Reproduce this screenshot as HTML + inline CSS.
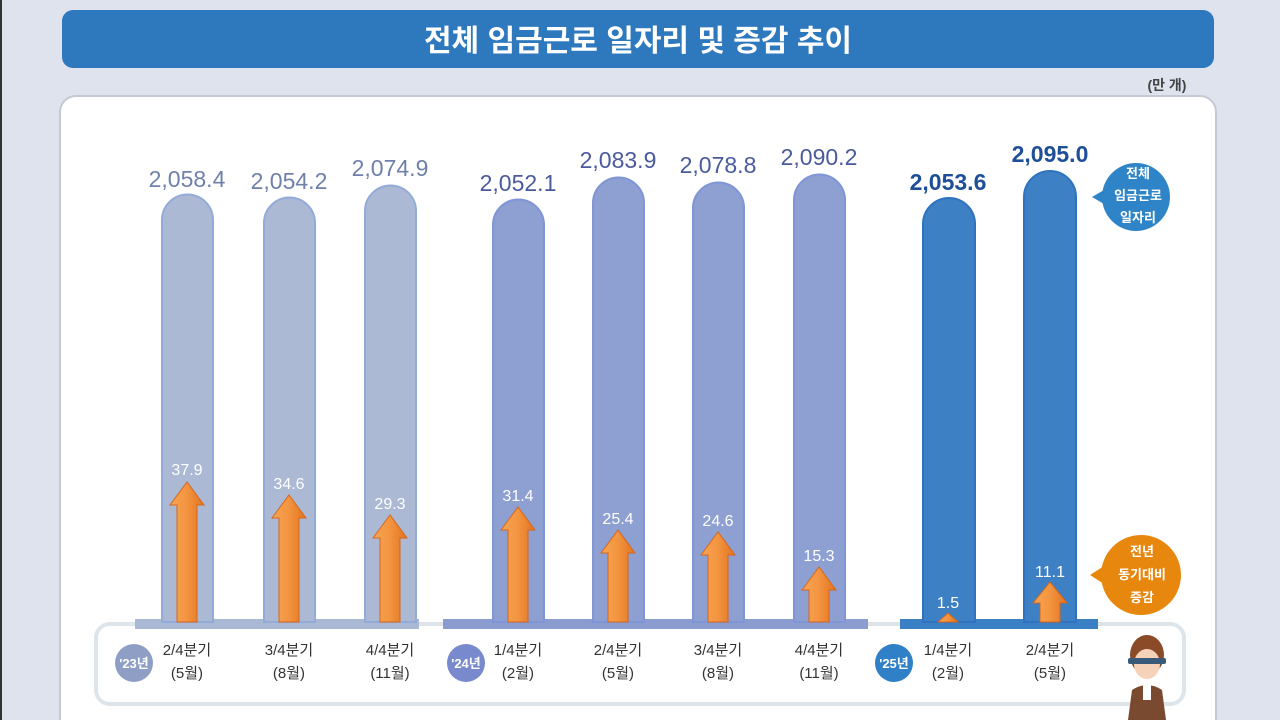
<!DOCTYPE html>
<html><head><meta charset="utf-8"><style>
html,body{margin:0;padding:0;width:1280px;height:720px;overflow:hidden;background:#dfe3ee}
svg{display:block}
text{font-family:"Liberation Sans","Noto Sans CJK KR",sans-serif}
</style></head><body>
<svg width="1280" height="720" viewBox="0 0 1280 720" xmlns="http://www.w3.org/2000/svg">
<defs>
<linearGradient id="ar" x1="0" x2="1" y1="0" y2="0">
<stop offset="0" stop-color="#f7a555"/><stop offset="0.5" stop-color="#f39440"/><stop offset="1" stop-color="#e0731f"/>
</linearGradient>
</defs>
<rect x="0" y="0" width="1280" height="720" fill="#dfe3ee"/>
<rect x="0" y="0" width="2" height="720" fill="#333"/>
<rect x="62" y="10" width="1152" height="58" rx="11" fill="#2e78bd"/>
<text x="638" y="51" text-anchor="middle" font-size="30" font-weight="bold" fill="#fff">전체 임금근로 일자리 및 증감 추이</text>
<text x="1167" y="90" text-anchor="middle" font-size="14" fill="#444" font-weight="bold">(만 개)</text>
<rect x="60" y="96" width="1156" height="640" rx="16" fill="#fff" stroke="#c5c9d4" stroke-width="2"/>
<rect x="96" y="624" width="1088" height="80" rx="14" fill="#fff" stroke="#dde5ea" stroke-width="4"/>
<rect x="135" y="619" width="284" height="10" fill="#a9b8d3"/>
<rect x="443" y="619" width="425" height="10" fill="#8b9cd1"/>
<rect x="900" y="619" width="198" height="10" fill="#3b7fc4"/>
<g id="bars">
<!-- 23 -->
<path d="M162,622 V220 a25.5,25.5 0 0 1 51,0 V622 Z" fill="#abb9d4" stroke="#93abd8" stroke-width="2"/>
<path d="M264,622 V223 a25.5,25.5 0 0 1 51,0 V622 Z" fill="#abb9d4" stroke="#93abd8" stroke-width="2"/>
<path d="M365,622 V211 a25.5,25.5 0 0 1 51,0 V622 Z" fill="#abb9d4" stroke="#93abd8" stroke-width="2"/>
<!-- 24 -->
<path d="M493,622 V225 a25.5,25.5 0 0 1 51,0 V622 Z" fill="#8e9fd2" stroke="#7f95d6" stroke-width="2"/>
<path d="M593,622 V203 a25.5,25.5 0 0 1 51,0 V622 Z" fill="#8e9fd2" stroke="#7f95d6" stroke-width="2"/>
<path d="M693,622 V208 a25.5,25.5 0 0 1 51,0 V622 Z" fill="#8e9fd2" stroke="#7f95d6" stroke-width="2"/>
<path d="M794,622 V200 a25.5,25.5 0 0 1 51,0 V622 Z" fill="#8e9fd2" stroke="#7f95d6" stroke-width="2"/>
<!-- 25 -->
<path d="M923,622 V224 a26,26 0 0 1 52,0 V622 Z" fill="#3d80c4" stroke="#2f72c0" stroke-width="2"/>
<path d="M1024,622 V197 a26,26 0 0 1 52,0 V622 Z" fill="#3d80c4" stroke="#2f72c0" stroke-width="2"/>
</g>
<g font-size="23" text-anchor="middle">
<text x="187" y="187" fill="#6f80aa">2,058.4</text>
<text x="289" y="189" fill="#6f80aa">2,054.2</text>
<text x="390" y="176" fill="#6f80aa">2,074.9</text>
<text x="518" y="191" fill="#4a5a9c">2,052.1</text>
<text x="618" y="168" fill="#4a5a9c">2,083.9</text>
<text x="718" y="173" fill="#4a5a9c">2,078.8</text>
<text x="819" y="165" fill="#4a5a9c">2,090.2</text>
<text x="948" y="190" fill="#1e4f98" font-weight="bold">2,053.6</text>
<text x="1050" y="162" fill="#1e4f98" font-weight="bold">2,095.0</text>
</g>
<g id="arrows">
<path d="M177,622 V505 H170 L187,482 L204,505 H197 V622 Z" fill="url(#ar)" stroke="#d8661a" stroke-width="1"/>
<path d="M279,622 V518 H272 L289,495 L306,518 H299 V622 Z" fill="url(#ar)" stroke="#d8661a" stroke-width="1"/>
<path d="M380,622 V538 H373 L390,515 L407,538 H400 V622 Z" fill="url(#ar)" stroke="#d8661a" stroke-width="1"/>
<path d="M508,622 V530 H501 L518,507 L535,530 H528 V622 Z" fill="url(#ar)" stroke="#d8661a" stroke-width="1"/>
<path d="M608,622 V553 H601 L618,530 L635,553 H628 V622 Z" fill="url(#ar)" stroke="#d8661a" stroke-width="1"/>
<path d="M708,622 V555 H701 L718,532 L735,555 H728 V622 Z" fill="url(#ar)" stroke="#d8661a" stroke-width="1"/>
<path d="M809,622 V590 H802 L819,567 L836,590 H829 V622 Z" fill="url(#ar)" stroke="#d8661a" stroke-width="1"/>
<path d="M938,622 L948,613 L958,622 Z" fill="url(#ar)" stroke="#d8661a" stroke-width="1"/>
<path d="M1040,622 V603 H1033 L1050,582 L1067,603 H1060 V622 Z" fill="url(#ar)" stroke="#d8661a" stroke-width="1"/>
</g>
<g font-size="16" fill="#fff" text-anchor="middle">
<text x="187" y="475">37.9</text>
<text x="289" y="489">34.6</text>
<text x="390" y="509">29.3</text>
<text x="518" y="501">31.4</text>
<text x="618" y="524">25.4</text>
<text x="718" y="526">24.6</text>
<text x="819" y="561">15.3</text>
<text x="948" y="608">1.5</text>
<text x="1050" y="577">11.1</text>
</g>
<circle cx="134" cy="663" r="19" fill="#8e9ec4"/>
<text x="134" y="668" text-anchor="middle" font-size="13" fill="#fff" font-weight="bold">'23년</text>
<circle cx="466" cy="663" r="19" fill="#7889cd"/>
<text x="466" y="668" text-anchor="middle" font-size="13" fill="#fff" font-weight="bold">'24년</text>
<circle cx="894" cy="663" r="19" fill="#2f80c7"/>
<text x="894" y="668" text-anchor="middle" font-size="13" fill="#fff" font-weight="bold">'25년</text>
<g font-size="15" fill="#333" text-anchor="middle">
<text x="187" y="655">2/4분기</text><text x="187" y="678">(5월)</text>
<text x="289" y="655">3/4분기</text><text x="289" y="678">(8월)</text>
<text x="390" y="655">4/4분기</text><text x="390" y="678">(11월)</text>
<text x="518" y="655">1/4분기</text><text x="518" y="678">(2월)</text>
<text x="618" y="655">2/4분기</text><text x="618" y="678">(5월)</text>
<text x="718" y="655">3/4분기</text><text x="718" y="678">(8월)</text>
<text x="819" y="655">4/4분기</text><text x="819" y="678">(11월)</text>
<text x="948" y="655">1/4분기</text><text x="948" y="678">(2월)</text>
<text x="1050" y="655">2/4분기</text><text x="1050" y="678">(5월)</text>
</g>
<path d="M1092,197 L1104,190 L1104,204 Z" fill="#2e84c7"/>
<circle cx="1136" cy="197" r="34" fill="#2e84c7"/>
<g font-size="13" fill="#fff" text-anchor="middle" font-weight="bold">
<text x="1138" y="178">전체</text><text x="1138" y="200">임금근로</text><text x="1138" y="222">일자리</text>
</g>
<path d="M1090,575 L1104,566 L1104,584 Z" fill="#e8870e"/>
<circle cx="1141" cy="575" r="40" fill="#e8870e"/>
<g font-size="13" fill="#fff" text-anchor="middle" font-weight="bold">
<text x="1142" y="556">전년</text><text x="1142" y="579">동기대비</text><text x="1142" y="602">증감</text>
</g>
<!-- person -->
<g>
<ellipse cx="1147" cy="655" rx="17" ry="20" fill="#8b4a28"/>
<ellipse cx="1147" cy="664" rx="13" ry="15" fill="#f6d3b8"/>
<rect x="1128" y="658" width="38" height="6" rx="2" fill="#3a5a7a"/>
<path d="M1128,720 L1132,690 Q1147,680 1162,690 L1166,720 Z" fill="#7a4a30"/>
<rect x="1143" y="684" width="8" height="16" fill="#fff"/>
</g>
</svg>
</body></html>
